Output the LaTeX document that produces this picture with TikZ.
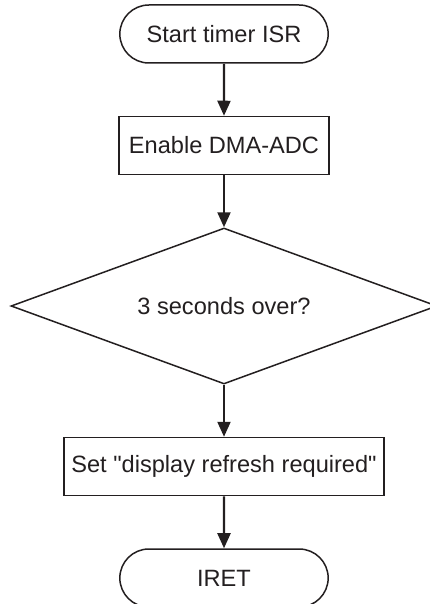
\documentclass[tikz,border=0pt]{standalone}
\usepackage{fontspec}
\setmainfont{Liberation Sans}
\usetikzlibrary{positioning,shapes.misc,shapes.geometric,arrows.meta}
\definecolor{ink}{HTML}{231F20}

\begin{document}
\begin{tikzpicture}[node distance={52pt}, line width=1.5pt, draw=ink, text=ink,
    font=\fontsize{23.6}{28}\selectfont,
    term/.style = {draw, rounded rectangle, minimum width=215pt, minimum height=58pt},
    proc/.style = {draw, rectangle, minimum height=58pt, inner xsep=6pt},
    dec/.style = {draw, diamond, aspect=2.73, minimum width=426pt, minimum height=156pt, inner sep=0pt},
    flow/.style = {-{Triangle[width=13pt,length=15pt]}, line width=2.2pt}]
			\useasboundingbox (0,0) rectangle (430pt,-604pt);
			\node[term] (start) at (224pt,-34pt) {Start timer ISR};
			\node[proc] (enable) [below=of start] [minimum width=210pt] {Enable DMA-ADC};
			\node[dec] (check) [below=of enable] {3 seconds over?};
			\node[proc] (flag) [below=of check] [minimum width=320pt] {Set \textquotedbl display refresh required\textquotedbl};
			\node[term] (iret) [below=of flag] {IRET};
			\path[flow]
			(start) edge (enable)
			(enable) edge (check)
			(check) edge (flag)
			(flag) edge (iret);
		\end{tikzpicture}
\end{document}
